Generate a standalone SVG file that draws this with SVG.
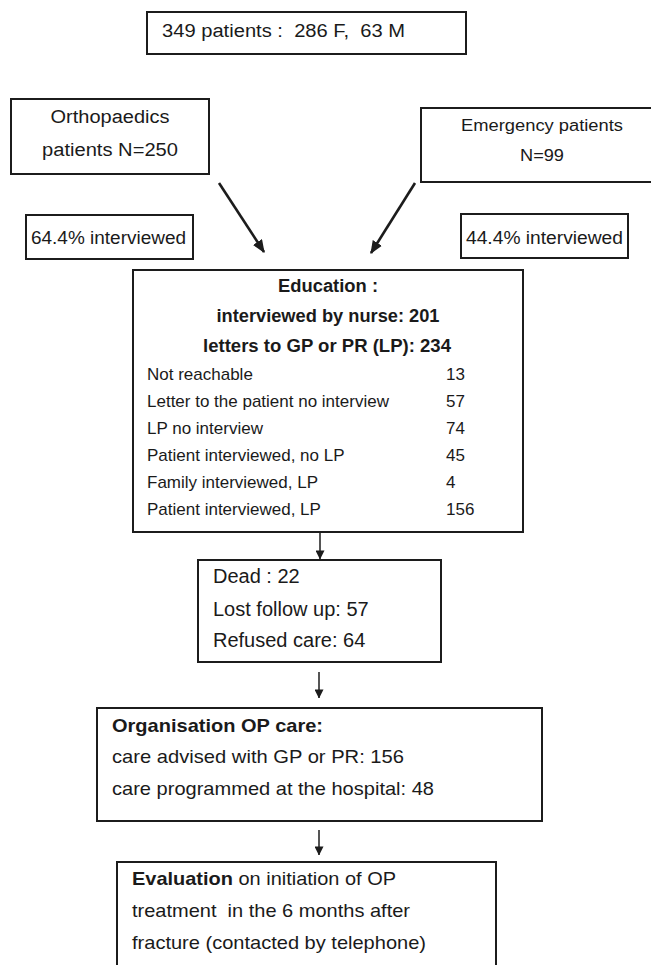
<svg xmlns="http://www.w3.org/2000/svg" width="651" height="965" viewBox="0 0 651 965">
<defs>
<style>
.box{fill:#fff;stroke:#1c1c1c;stroke-width:2}
text{font-family:"Liberation Sans",Arial,sans-serif;fill:#1a1a1a;white-space:pre}
.t18{font-size:18px}
.t17{font-size:17px}
.t16{font-size:16px}
.t19{font-size:19px}
.t20{font-size:20px}
.b{font-weight:bold}
.c{text-anchor:middle}
.diag{stroke:#1c1c1c;stroke-width:2.6;fill:none}
.down{stroke:#1c1c1c;stroke-width:1.5;fill:none}
</style>
<marker id="headL" viewBox="0 0 12 10" refX="11" refY="5" markerWidth="13" markerHeight="11" markerUnits="userSpaceOnUse" orient="auto">
<path d="M0,0 L12,5 L0,10 z" fill="#1c1c1c"/>
</marker>
<marker id="headS" viewBox="0 0 10 10" refX="9.5" refY="5" markerWidth="9" markerHeight="9" markerUnits="userSpaceOnUse" orient="auto">
<path d="M0,0 L10,5 L0,10 z" fill="#1c1c1c"/>
</marker>
</defs>
<rect width="651" height="965" fill="#fff"/>

<g id="total">
<rect class="box" x="147" y="12" width="319" height="42"/>
<text class="t18" x="162" y="37" textLength="243" lengthAdjust="spacingAndGlyphs">349 patients :  286 F,  63 M</text>
</g>

<g id="ortho">
<rect class="box" x="11" y="99" width="198" height="75"/>
<text class="t18 c" x="110" y="123" textLength="119" lengthAdjust="spacingAndGlyphs">Orthopaedics</text>
<text class="t18 c" x="110" y="156" textLength="136" lengthAdjust="spacingAndGlyphs">patients N=250</text>
</g>

<g id="emergency">
<rect class="box" x="421" y="108" width="240" height="74"/>
<text class="t16 c" x="542" y="131" textLength="162" lengthAdjust="spacingAndGlyphs">Emergency patients</text>
<text class="t16 c" x="542" y="161" textLength="44" lengthAdjust="spacingAndGlyphs">N=99</text>
</g>

<g id="ortho-interviewed">
<rect class="box" x="26" y="215" width="167" height="44"/>
<text class="t18" x="31" y="244" textLength="155" lengthAdjust="spacingAndGlyphs">64.4% interviewed</text>
</g>

<g id="emergency-interviewed">
<rect class="box" x="461" y="214" width="167" height="44"/>
<text class="t18" x="466" y="244" textLength="157" lengthAdjust="spacingAndGlyphs">44.4% interviewed</text>
</g>

<g id="education">
<rect class="box" x="133" y="270" width="390" height="262"/>
<text class="t18 b c" x="328" y="292" textLength="100" lengthAdjust="spacingAndGlyphs">Education :</text>
<text class="t18 b c" x="328" y="322" textLength="223" lengthAdjust="spacingAndGlyphs">interviewed by nurse: 201</text>
<text class="t18 b c" x="327" y="352" textLength="248" lengthAdjust="spacingAndGlyphs">letters to GP or PR (LP): 234</text>
<text class="t17" x="147" y="380">Not reachable</text>
<text class="t17" x="446" y="380">13</text>
<text class="t17" x="147" y="407">Letter to the patient no interview</text>
<text class="t17" x="446" y="407">57</text>
<text class="t17" x="147" y="434">LP no interview</text>
<text class="t17" x="446" y="434">74</text>
<text class="t17" x="147" y="461">Patient interviewed, no LP</text>
<text class="t17" x="446" y="461">45</text>
<text class="t17" x="147" y="488">Family interviewed, LP</text>
<text class="t17" x="446" y="488">4</text>
<text class="t17" x="147" y="515">Patient interviewed, LP</text>
<text class="t17" x="446" y="515">156</text>
</g>

<g id="losses">
<rect class="box" x="198" y="560" width="243" height="102"/>
<text class="t20" x="213" y="583">Dead : 22</text>
<text class="t20" x="213" y="616">Lost follow up: 57</text>
<text class="t20" x="213" y="647">Refused care: 64</text>
</g>

<g id="organisation">
<rect class="box" x="97" y="708" width="445" height="113"/>
<text class="t19 b" x="112" y="732" textLength="211" lengthAdjust="spacingAndGlyphs">Organisation OP care:</text>
<text class="t19" x="112" y="763" textLength="292" lengthAdjust="spacingAndGlyphs">care advised with GP or PR: 156</text>
<text class="t19" x="112" y="795" textLength="322" lengthAdjust="spacingAndGlyphs">care programmed at the hospital: 48</text>
</g>

<g id="evaluation">
<rect class="box" x="117" y="862" width="379" height="120"/>
<text class="t19" x="132" y="885" textLength="264" lengthAdjust="spacingAndGlyphs"><tspan class="b">Evaluation</tspan> on initiation of OP</text>
<text class="t19" x="132" y="917" textLength="278" lengthAdjust="spacingAndGlyphs">treatment  in the 6 months after</text>
<text class="t19" x="132" y="949" textLength="294" lengthAdjust="spacingAndGlyphs">fracture (contacted by telephone)</text>
</g>

<g id="connectors">
<line class="diag" x1="219" y1="183" x2="264" y2="252" marker-end="url(#headL)"/>
<line class="diag" x1="415" y1="183" x2="371" y2="253" marker-end="url(#headL)"/>
<line class="down" x1="320" y1="532" x2="320" y2="559" marker-end="url(#headS)"/>
<line class="down" x1="319" y1="672" x2="319" y2="698" marker-end="url(#headS)"/>
<line class="down" x1="319" y1="830" x2="319" y2="855" marker-end="url(#headS)"/>
</g>
</svg>
